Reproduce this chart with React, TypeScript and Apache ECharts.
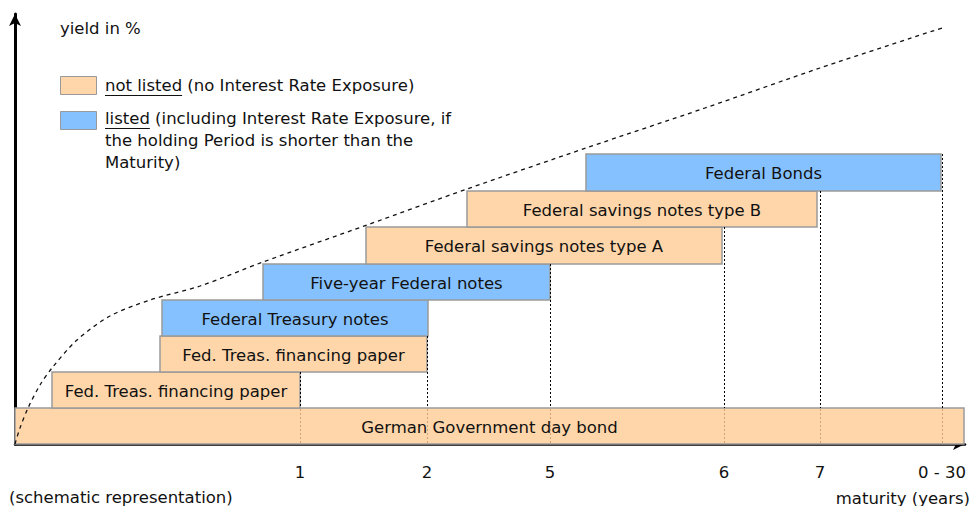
import React, { useEffect, useRef } from "react";
import * as echarts from "echarts";

// ---- data (schematic units: x = maturity position, y = yield level) ----
const barNames = [
  "German Government day bond",
  "Fed. Treas. financing paper",
  "Fed. Treas. financing paper",
  "Federal Treasury notes",
  "Five-year Federal notes",
  "Federal savings notes type A",
  "Federal savings notes type B",
  "Federal Bonds",
];
const barStart = [0, 37, 145, 147, 248, 351, 452, 571];
const barEnd = [949, 285, 412, 413, 535, 707, 802, 926];
const barLow = [0, 36, 72, 108, 144, 180, 217, 253];
const barHigh = [36, 72, 108, 144, 180, 217, 253, 290];
const barListed = [false, false, false, true, true, false, false, true];

const tickLabels = ["1", "2", "5", "6", "7", "0 - 30"];
const tickPositions = [285, 412, 535, 709, 805, 927];
const tickTops = [72, 108, 180, 217, 253, 290];

const curveX = [0, 5, 13, 25, 37, 62, 95, 135, 185, 248, 352, 452, 571, 690, 805, 927];
const curveY = [0, 16, 36, 59, 76, 104, 128, 144, 158, 182, 219, 255, 296, 336, 376, 416];

const legendItems = [
  { key: "not listed", rest: " (no Interest Rate Exposure)" },
  { key: "listed", rest: " (including Interest Rate Exposure, if" },
];
const legendExtra = ["the holding Period is shorter than the", "Maturity)"];

const ORANGE = "#FFD6AA";
const BLUE = "#86C1FF";
const FONT_FAMILY = '"DejaVu Sans", Verdana, sans-serif';
const FS = 16.5;

function measure(text: string, size: number) {
  const c = document.createElement("canvas");
  const ctx = c.getContext("2d");
  if (!ctx) return text.length * size * 0.55;
  ctx.font = `${size}px ${FONT_FAMILY}`;
  return ctx.measureText(text).width;
}

export default function App() {
  const ref = useRef<HTMLDivElement>(null);
  useEffect(() => {
    if (!ref.current) return;
    const chart = echarts.init(ref.current, undefined, { renderer: "svg" });

    const font = `${FS}px ${FONT_FAMILY}`;
    const graphics: any[] = [];
    graphics.push({
      type: "text",
      style: { text: "yield in %", x: 60, y: 28, font, fill: "#111", verticalAlign: "middle" },
    });
    const legendY = [85, 118];
    const boxY = [76, 111];
    legendItems.forEach((it, i) => {
      graphics.push({
        type: "rect",
        shape: { x: 60.5, y: boxY[i] + 0.5, width: 36, height: 18 },
        style: { fill: i === 0 ? ORANGE : BLUE, stroke: "#999", lineWidth: 1 },
      });
      const w = measure(it.key, FS);
      graphics.push({
        type: "text",
        style: { text: it.key, x: 105, y: legendY[i], font, fill: "#111", verticalAlign: "middle" },
      });
      graphics.push({
        type: "line",
        shape: { x1: 105, y1: legendY[i] + 10.5, x2: 105 + w, y2: legendY[i] + 10.5 },
        style: { stroke: "#111", lineWidth: 1 },
      });
      graphics.push({
        type: "text",
        style: { text: it.rest, x: 105 + w, y: legendY[i], font, fill: "#111", verticalAlign: "middle" },
      });
    });
    legendExtra.forEach((t, i) => {
      graphics.push({
        type: "text",
        style: { text: t, x: 105, y: 140 + i * 22, font, fill: "#111", verticalAlign: "middle" },
      });
    });
    graphics.push({
      type: "text",
      style: { text: "(schematic representation)", x: 9, y: 497, font, fill: "#111", verticalAlign: "middle" },
    });
    graphics.push({
      type: "text",
      style: { text: "maturity (years)", x: 970, y: 498, font, fill: "#111", align: "right", verticalAlign: "middle" },
    });

    chart.setOption({
      animation: false,
      grid: { left: 15, top: 14, width: 950, height: 430 },
      xAxis: {
        type: "value",
        min: 0,
        max: 950,
        axisLine: {
          show: true,
          symbol: ["none", "arrow"],
          symbolSize: [9, 12],
          lineStyle: { color: "#000", width: 2.5 },
        },
        axisTick: { show: false },
        axisLabel: { show: false },
        splitLine: { show: false },
      },
      yAxis: {
        type: "value",
        min: 0,
        max: 430,
        axisLine: {
          show: true,
          symbol: ["none", "arrow"],
          symbolSize: [9, 12],
          lineStyle: { color: "#000", width: 3 },
        },
        axisTick: { show: false },
        axisLabel: { show: false },
        splitLine: { show: false },
      },
      graphic: graphics,
      series: [
        {
          type: "custom",
          clip: false,
          z: 2,
          data: barStart.map((s, i) => [s, barEnd[i], barLow[i], barHigh[i]]),
          encode: { x: [0, 1], y: [2, 3] },
          renderItem: (params: any, api: any) => {
            const i = params.dataIndex;
            const p0 = api.coord([barStart[i], barHigh[i]]);
            const p1 = api.coord([barEnd[i], barLow[i]]);
            return {
              type: "group",
              children: [
                {
                  type: "rect",
                  shape: { x: p0[0], y: p0[1], width: p1[0] - p0[0], height: p1[1] - p0[1] },
                  style: { fill: barListed[i] ? BLUE : ORANGE, stroke: "#9a9a9a", lineWidth: 1.5 },
                },
                {
                  type: "text",
                  style: {
                    text: barNames[i],
                    x: (p0[0] + p1[0]) / 2,
                    y: (p0[1] + p1[1]) / 2 + 1,
                    align: "center",
                    verticalAlign: "middle",
                    font,
                    fill: "#111",
                  },
                },
              ],
            };
          },
        },
        {
          type: "custom",
          clip: false,
          z: 3,
          data: tickPositions.map((p, i) => [p, tickTops[i]]),
          encode: { x: 0, y: 1 },
          renderItem: (params: any, api: any) => {
            const i = params.dataIndex;
            const top = api.coord([tickPositions[i], tickTops[i]]);
            const mid = api.coord([tickPositions[i], barHigh[0]]);
            const bot = api.coord([tickPositions[i], 0]);
            const x = Math.round(top[0]) + 0.5;
            return {
              type: "group",
              children: [
                {
                  type: "line",
                  shape: { x1: x, y1: top[1], x2: x, y2: mid[1] },
                  style: { stroke: "#000", lineWidth: 1, lineDash: [2, 2] },
                },
                {
                  type: "line",
                  shape: { x1: x, y1: mid[1] + 1, x2: x, y2: bot[1] - 1 },
                  style: { stroke: "#d4a275", lineWidth: 1, lineDash: [2, 2] },
                },
                {
                  type: "text",
                  style: {
                    text: tickLabels[i],
                    x: top[0],
                    y: bot[1] + 28,
                    align: "center",
                    verticalAlign: "middle",
                    font,
                    fill: "#111",
                  },
                },
              ],
            };
          },
        },
        {
          type: "line",
          z: 4,
          data: curveX.map((x, i) => [x, curveY[i]]),
          smooth: 0.3,
          showSymbol: false,
          symbol: "none",
          lineStyle: { color: "#111", width: 1.3, type: [4, 4] },
        },
      ],
    });
    return () => chart.dispose();
  }, []);
  return (
    <div
      ref={ref}
      style={{ position: "fixed", left: 0, top: 0, width: 972, height: 506, background: "#fff" }}
    />
  );
}
